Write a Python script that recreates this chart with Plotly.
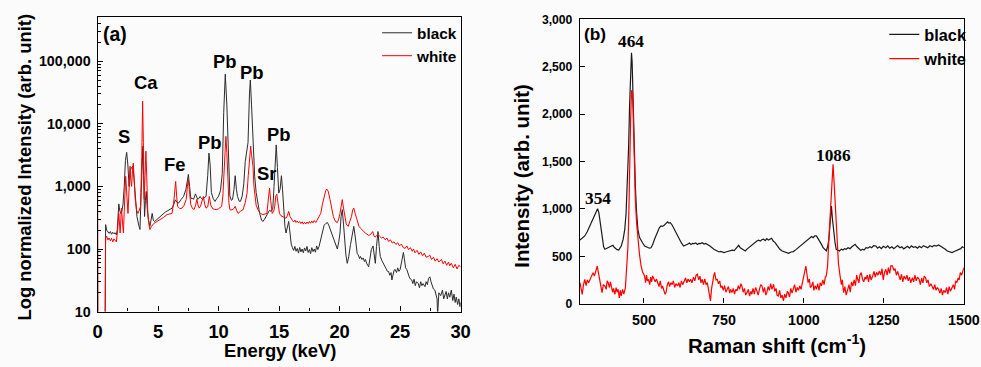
import math
import plotly.graph_objects as go

# ---------------- XRF (panel a) ----------------
xrf_black_e = [0.62, 0.66, 0.75, 0.85, 0.95, 1.05, 1.15, 1.25, 1.35, 1.45, 1.55, 1.62, 1.70, 1.75, 1.82, 1.90, 2.0, 2.1, 2.2, 2.3, 2.4, 2.5, 2.6, 2.7, 2.8, 2.9, 3.0, 3.1, 3.25, 3.4, 3.5, 3.6, 3.68, 3.74, 3.8, 3.88, 3.95, 4.02, 4.1, 4.2, 4.32, 4.42, 4.51, 4.6, 4.7, 4.85, 5.0, 5.2, 5.4, 5.6, 5.8, 6.0, 6.15, 6.3, 6.42, 6.55, 6.69, 6.9, 7.1, 7.3, 7.42, 7.5, 7.6, 7.7, 7.85, 7.92, 8.02, 8.09, 8.18, 8.28, 8.38, 8.47, 8.58, 8.69, 8.8, 8.96, 9.1, 9.2, 9.3, 9.4, 9.55, 9.7, 9.85, 10.0, 10.15, 10.3, 10.42, 10.55, 10.68, 10.8, 10.93, 11.05, 11.15, 11.27, 11.37, 11.47, 11.56, 11.7, 11.8, 11.95, 12.08, 12.2, 12.3, 12.43, 12.55, 12.62, 12.72, 12.82, 12.98, 13.1, 13.2, 13.39, 13.55, 13.66, 13.8, 13.93, 14.1, 14.2, 14.35, 14.48, 14.58, 14.66, 14.76, 14.86, 14.97, 15.08, 15.19, 15.28, 15.38, 15.48, 15.57, 15.68, 15.79, 15.9, 16.0, 16.1, 16.2, 16.3, 16.4, 16.5, 16.6, 16.7, 16.8, 16.9, 17.0, 17.1, 17.2, 17.3, 17.4, 17.5, 17.6, 17.7, 17.8, 17.9, 18.0, 18.1, 18.2, 18.3, 18.45, 18.6, 18.72, 18.85, 18.99, 19.1, 19.26, 19.4, 19.54, 19.7, 19.81, 19.93, 20.03, 20.12, 20.22, 20.32, 20.41, 20.52, 20.63, 20.75, 20.9, 21.05, 21.17, 21.3, 21.45, 21.55, 21.65, 21.72, 21.85, 21.95, 22.05, 22.13, 22.25, 22.4, 22.5, 22.62, 22.76, 22.85, 22.95, 23.05, 23.17, 23.27, 23.36, 23.5, 23.63, 23.75, 23.85, 23.95, 24.04, 24.15, 24.25, 24.32, 24.42, 24.5, 24.59, 24.7, 24.8, 24.9, 25.0, 25.1, 25.2, 25.27, 25.35, 25.45, 25.55, 25.65, 25.75, 25.85, 25.96, 26.05, 26.15, 26.25, 26.35, 26.5, 26.6, 26.7, 26.8, 26.9, 27.05, 27.15, 27.25, 27.35, 27.46, 27.55, 27.65, 27.75, 27.87, 27.95, 28.05, 28.1, 28.2, 28.35, 28.5, 28.6, 28.69, 28.8, 28.9, 29.0, 29.1, 29.23, 29.35, 29.45, 29.55, 29.64, 29.75, 29.85, 29.95, 30.0]
xrf_black_v = [5, 245, 200, 185, 178, 190, 172, 185, 175, 182, 168, 200, 480, 525, 420, 370, 400, 520, 1000, 2600, 3500, 2200, 1000, 1800, 2000, 2100, 1400, 800, 330, 240, 205, 800, 3000, 4400, 1500, 330, 600, 830, 450, 290, 230, 280, 370, 290, 275, 290, 310, 330, 360, 390, 410, 430, 450, 520, 610, 560, 540, 620, 690, 900, 1300, 1550, 1000, 650, 640, 620, 700, 760, 680, 620, 650, 690, 640, 610, 660, 690, 1500, 3400, 2200, 800, 640, 575, 640, 700, 850, 1600, 15000, 62000, 20000, 3000, 700, 600, 620, 900, 1480, 900, 690, 580, 575, 700, 1100, 2500, 3650, 5000, 30000, 50000, 20000, 6000, 1450, 800, 600, 370, 290, 275, 300, 330, 380, 415, 400, 450, 1000, 2800, 4600, 2000, 780, 900, 1480, 900, 370, 230, 180, 220, 275, 180, 120, 105, 95, 110, 92, 102, 86, 106, 90, 100, 87, 104, 93, 110, 88, 98, 84, 105, 91, 100, 89, 112, 98, 110, 150, 200, 240, 255, 265, 240, 200, 165, 140, 115, 100, 130, 180, 330, 425, 250, 140, 80, 59, 75, 118, 190, 230, 150, 85, 80, 70, 76, 68, 72, 63, 68, 58, 52, 70, 98, 112, 80, 59, 110, 190, 110, 76, 65, 59, 52, 48, 44, 44, 38, 42, 32, 40, 46, 47, 42, 50, 44, 47, 60, 80, 88, 70, 50, 47, 40, 36, 33, 32, 28, 33, 26, 30, 28, 24, 30, 26, 28, 25, 30, 27, 34, 36, 30, 25, 23, 22, 18, 16, 9, 20, 18, 22, 16, 19, 21, 16, 20, 17, 22, 15, 19, 14, 17, 13, 16, 12, 14]

xrf_white_e = [0.0, 0.04, 0.62, 0.66, 0.75, 0.85, 0.95, 1.05, 1.15, 1.25, 1.35, 1.45, 1.55, 1.65, 1.75, 1.86, 1.97, 2.05, 2.13, 2.2, 2.32, 2.42, 2.51, 2.6, 2.68, 2.75, 2.81, 2.88, 2.95, 3.03, 3.11, 3.22, 3.33, 3.45, 3.55, 3.65, 3.72, 3.78, 3.85, 3.92, 3.99, 4.06, 4.15, 4.25, 4.32, 4.45, 4.64, 4.9, 5.19, 5.45, 5.74, 6.0, 6.15, 6.28, 6.36, 6.45, 6.53, 6.61, 6.8, 6.97, 7.15, 7.32, 7.42, 7.49, 7.58, 7.7, 7.85, 7.98, 8.1, 8.2, 8.3, 8.39, 8.5, 8.58, 8.66, 8.74, 8.85, 8.96, 9.1, 9.23, 9.35, 9.51, 9.65, 9.84, 10.0, 10.15, 10.25, 10.35, 10.44, 10.52, 10.6, 10.68, 10.77, 10.85, 10.93, 11.1, 11.25, 11.37, 11.5, 11.61, 11.8, 12.02, 12.2, 12.35, 12.45, 12.51, 12.58, 12.65, 12.72, 12.84, 12.92, 13.0, 13.1, 13.25, 13.45, 13.66, 13.85, 13.99, 14.08, 14.16, 14.21, 14.3, 14.43, 14.55, 14.64, 14.72, 14.81, 14.9, 15.03, 15.15, 15.3, 15.45, 15.57, 15.68, 15.79, 15.9, 16.01, 16.1, 16.2, 16.3, 16.4, 16.5, 16.6, 16.7, 16.8, 16.9, 17.0, 17.1, 17.21, 17.3, 17.4, 17.5, 17.6, 17.7, 17.8, 17.9, 18.03, 18.15, 18.3, 18.44, 18.58, 18.72, 18.85, 18.93, 19.05, 19.21, 19.35, 19.48, 19.6, 19.7, 19.81, 19.92, 20.03, 20.12, 20.22, 20.32, 20.41, 20.55, 20.71, 20.85, 20.98, 21.08, 21.17, 21.3, 21.45, 21.6, 21.72, 21.86, 22.0, 22.13, 22.27, 22.4, 22.55, 22.65, 22.73, 22.85, 22.95, 23.05, 23.17, 23.3, 23.45, 23.6, 23.77, 23.9, 24.05, 24.2, 24.35, 24.5, 24.65, 24.8, 24.95, 25.1, 25.25, 25.41, 25.55, 25.7, 25.85, 26.0, 26.1, 26.23, 26.4, 26.55, 26.7, 26.85, 27.0, 27.15, 27.32, 27.45, 27.6, 27.75, 27.9, 28.05, 28.2, 28.42, 28.55, 28.7, 28.85, 29.0, 29.1, 29.23, 29.4, 29.55, 29.7, 29.85, 30.0]
xrf_white_v = [900, 5, 5, 150, 160, 140, 150, 135, 148, 130, 145, 135, 130, 200, 370, 180, 450, 280, 180, 400, 1450, 700, 370, 900, 2100, 1200, 1000, 1800, 2350, 1200, 620, 420, 370, 420, 480, 3000, 23000, 5000, 620, 1500, 3650, 1400, 370, 240, 205, 230, 255, 275, 295, 320, 355, 365, 370, 540, 900, 1200, 700, 480, 440, 450, 500, 620, 1000, 1280, 900, 510, 440, 430, 500, 620, 500, 450, 480, 540, 600, 690, 520, 450, 470, 690, 500, 440, 430, 425, 440, 460, 480, 700, 1600, 4000, 6300, 3500, 1000, 550, 425, 420, 440, 480, 410, 370, 400, 425, 550, 780, 1500, 2100, 3500, 4400, 3200, 2100, 1000, 690, 500, 425, 370, 355, 360, 370, 550, 900, 940, 600, 370, 400, 480, 700, 750, 550, 370, 340, 330, 320, 310, 340, 400, 330, 295, 285, 270, 290, 265, 280, 262, 275, 255, 272, 250, 268, 252, 270, 255, 275, 258, 280, 262, 285, 265, 295, 320, 370, 520, 690, 850, 910, 840, 615, 420, 330, 290, 270, 265, 300, 370, 520, 615, 450, 330, 250, 230, 280, 330, 420, 450, 360, 275, 230, 215, 205, 190, 180, 170, 165, 170, 185, 190, 160, 155, 165, 170, 160, 150, 155, 140, 150, 132, 140, 125, 130, 118, 126, 112, 120, 106, 102, 112, 98, 105, 92, 100, 87, 95, 82, 90, 78, 86, 74, 76, 80, 68, 74, 64, 70, 62, 68, 58, 64, 55, 62, 54, 59, 50, 57, 48, 55, 52]

xrf_ytickvals = [10, 100, 1000, 10000, 100000]
xrf_yticktext = ["10", "100", "1,000", "10,000", "100,000"]
xrf_xtickvals = [0, 5, 10, 15, 20, 25, 30]

# element labels (keV, intensity)
xrf_label_text = ["S", "Ca", "Fe", "Pb", "Pb", "Pb", "Sr", "Pb"]
xrf_label_e = [2.19, 3.96, 6.37, 9.29, 10.52, 12.76, 13.93, 14.95]
xrf_label_v = [6300, 45000, 2200, 5000, 100000, 65000, 1600, 6800]

# ---------------- Raman (panel b) ----------------
raman_black_s = [300, 308, 315, 323, 331, 338, 346, 351, 355, 359, 362, 366, 369, 374, 378, 383, 388, 393, 398, 403, 407, 411, 416, 421, 425, 429, 435, 440, 444, 448, 452, 455, 458, 461, 463, 466, 469, 473, 477, 481, 486, 491, 496, 502, 507, 512, 517, 522, 527, 533, 538, 543, 548, 553, 558, 564, 569, 574, 578, 582, 588, 595, 602, 610, 617, 624, 630, 636, 642, 647, 652, 657, 662, 667, 672, 677, 682, 688, 693, 698, 705, 713, 720, 729, 735, 740, 745, 750, 756, 762, 770, 776, 782, 786, 791, 796, 801, 806, 811, 817, 822, 827, 832, 838, 845, 853, 858, 864, 869, 874, 879, 884, 889, 894, 899, 904, 910, 917, 925, 932, 939, 946, 952, 960, 967, 975, 982, 990, 997, 1003, 1010, 1017, 1024, 1029, 1034, 1039, 1044, 1049, 1055, 1060, 1065, 1070, 1074, 1078, 1082, 1086, 1089, 1093, 1097, 1101, 1106, 1111, 1117, 1122, 1127, 1132, 1138, 1144, 1150, 1155, 1160, 1166, 1173, 1178, 1183, 1188, 1194, 1200, 1206, 1212, 1218, 1225, 1230, 1236, 1242, 1248, 1256, 1262, 1268, 1275, 1281, 1287, 1293, 1300, 1306, 1312, 1318, 1324, 1330, 1336, 1342, 1349, 1355, 1361, 1367, 1374, 1380, 1387, 1394, 1401, 1407, 1414, 1421, 1428, 1435, 1442, 1448, 1455, 1463, 1470, 1477, 1483, 1490, 1495, 1500]
raman_black_i = [672, 690, 714, 760, 820, 880, 943, 985, 1002, 960, 890, 780, 680, 600, 573, 580, 590, 600, 608, 615, 595, 580, 570, 566, 585, 608, 680, 784, 950, 1241, 1650, 2085, 2400, 2648, 2550, 2085, 1650, 1241, 960, 784, 700, 661, 640, 608, 600, 590, 585, 590, 620, 679, 720, 767, 800, 820, 815, 830, 850, 862, 850, 855, 830, 784, 730, 679, 640, 608, 615, 626, 640, 625, 635, 633, 640, 625, 635, 633, 642, 628, 635, 626, 610, 590, 570, 556, 545, 550, 540, 538, 545, 552, 556, 565, 560, 573, 600, 615, 590, 580, 565, 556, 575, 590, 608, 625, 640, 661, 670, 660, 675, 679, 665, 685, 670, 679, 690, 660, 644, 610, 573, 555, 545, 538, 530, 545, 549, 570, 590, 615, 635, 650, 670, 690, 707, 695, 715, 714, 690, 661, 625, 590, 570, 556, 600, 679, 850, 1030, 900, 749, 650, 573, 560, 556, 575, 565, 580, 573, 590, 580, 600, 615, 626, 600, 573, 560, 575, 565, 590, 585, 600, 590, 612, 608, 585, 600, 580, 605, 590, 610, 585, 600, 580, 601, 612, 590, 600, 578, 590, 605, 585, 610, 595, 601, 585, 605, 590, 612, 601, 590, 610, 600, 615, 608, 619, 605, 590, 573, 555, 545, 538, 550, 560, 573, 580, 600, 590]

raman_white_s = [300, 304, 307, 311, 315, 319, 323, 327, 331, 336, 341, 345, 349, 352, 354, 358, 362, 366, 369, 373, 378, 382, 385, 388, 392, 395, 398, 402, 405, 409, 413, 416, 419, 423, 426, 429, 433, 437, 442, 446, 450, 453, 455, 458, 461, 463, 466, 469, 473, 477, 481, 486, 491, 496, 502, 505, 508, 511, 514, 518, 521, 524, 527, 531, 535, 539, 543, 547, 551, 555, 558, 562, 566, 569, 573, 577, 580, 584, 588, 592, 596, 600, 605, 609, 613, 617, 621, 626, 630, 634, 638, 642, 646, 650, 655, 659, 663, 667, 671, 675, 678, 682, 686, 690, 694, 698, 702, 705, 708, 711, 714, 718, 721, 725, 729, 733, 737, 740, 744, 748, 752, 756, 760, 764, 768, 771, 775, 779, 783, 787, 791, 795, 799, 803, 806, 810, 814, 818, 822, 826, 830, 834, 837, 841, 845, 849, 853, 857, 861, 865, 869, 873, 877, 881, 884, 888, 892, 896, 900, 905, 909, 913, 916, 920, 924, 928, 932, 936, 940, 944, 948, 951, 955, 959, 963, 967, 971, 975, 979, 983, 987, 991, 995, 998, 1002, 1006, 1009, 1013, 1017, 1020, 1024, 1028, 1031, 1035, 1039, 1043, 1047, 1051, 1055, 1059, 1063, 1067, 1070, 1074, 1078, 1082, 1085, 1088, 1091, 1094, 1097, 1101, 1104, 1108, 1113, 1117, 1120, 1124, 1128, 1132, 1137, 1141, 1145, 1149, 1153, 1157, 1161, 1165, 1168, 1172, 1175, 1179, 1183, 1187, 1191, 1194, 1198, 1202, 1206, 1210, 1215, 1219, 1223, 1227, 1231, 1236, 1240, 1244, 1248, 1252, 1256, 1260, 1264, 1268, 1272, 1277, 1281, 1285, 1289, 1293, 1297, 1301, 1305, 1309, 1313, 1318, 1322, 1326, 1330, 1334, 1339, 1343, 1347, 1351, 1355, 1360, 1364, 1368, 1372, 1376, 1380, 1384, 1388, 1392, 1397, 1401, 1405, 1409, 1413, 1417, 1421, 1425, 1429, 1433, 1437, 1442, 1446, 1450, 1454, 1458, 1463, 1467, 1471, 1474, 1478, 1482, 1485, 1489, 1493, 1497, 1500]
raman_white_i = [222, 130, 98, 200, 257, 190, 250, 220, 257, 300, 327, 290, 350, 380, 397, 320, 239, 160, 116, 200, 186, 150, 240, 222, 170, 230, 186, 120, 160, 98, 170, 120, 151, 60, 140, 81, 150, 100, 169, 350, 608, 1000, 1453, 1900, 2244, 2250, 2050, 1600, 1101, 850, 679, 520, 397, 330, 292, 220, 300, 240, 257, 200, 280, 230, 292, 260, 230, 260, 222, 180, 240, 160, 186, 150, 98, 120, 200, 230, 180, 222, 200, 240, 170, 210, 186, 220, 170, 240, 200, 239, 270, 220, 260, 230, 257, 220, 280, 240, 300, 310, 250, 290, 220, 257, 200, 260, 200, 222, 150, 80, 28, 150, 240, 292, 330, 250, 257, 210, 240, 170, 186, 140, 190, 120, 151, 180, 110, 150, 116, 160, 100, 150, 134, 190, 150, 210, 186, 120, 160, 90, 116, 150, 80, 130, 98, 160, 100, 170, 134, 90, 150, 200, 186, 120, 170, 90, 116, 180, 140, 210, 150, 204, 130, 160, 90, 81, 140, 60, 90, 28, 100, 60, 130, 116, 70, 160, 110, 151, 200, 120, 170, 140, 186, 150, 230, 257, 330, 397, 300, 222, 260, 170, 186, 230, 140, 190, 151, 210, 140, 220, 186, 250, 200, 280, 292, 400, 679, 950, 1101, 1350, 1470, 1300, 1101, 800, 538, 420, 292, 200, 250, 116, 180, 90, 151, 200, 120, 230, 186, 250, 190, 300, 257, 220, 300, 327, 260, 230, 280, 257, 300, 230, 310, 250, 292, 340, 280, 330, 300, 345, 300, 370, 250, 330, 362, 300, 380, 320, 400, 397, 350, 370, 300, 340, 292, 250, 310, 230, 290, 257, 300, 240, 280, 220, 274, 230, 300, 240, 280, 257, 200, 270, 220, 290, 274, 220, 250, 180, 210, 186, 150, 200, 140, 170, 151, 110, 160, 90, 140, 116, 170, 100, 180, 130, 169, 200, 150, 240, 222, 270, 250, 327, 300, 360, 380]

raman_xtickvals = [500, 750, 1000, 1250, 1500]
raman_ytickvals = [0, 500, 1000, 1500, 2000, 2500, 3000]
raman_yticktext = ["0", "500", "1,000", "1,500", "2,000", "2,500", "3,000"]

raman_label_text = ["354", "464", "1086"]
raman_label_s = [357, 458, 1091]
raman_label_i = [1111, 2771, 1568]

# ---------------- figure ----------------
BLACK = "#1a1a1a"
RED = "#ff0000"
SANS = "Liberation Sans, Arial, sans-serif"
SERIF = "Liberation Serif, Times New Roman, serif"

W, H = 981, 367
# The photographed page comes out slightly larger than the window and is scaled
# back to W x H, so target pixel positions are mapped through the inverse scaling.
SX = (W + 16) / W
SY = (H + 16) / H
FS = 1.02  # font compensation

def px(x):
    return min(1.0, (x * SX - 8) / W)
def py(y):
    return 1 - (y * SY - 8) / H
def f(s):
    return round(s * FS, 1)

# minor tick positions on the log axis (2..9 of every decade)
log_minor_ticks = [m * 10 ** d for d in range(1, 6) for m in range(2, 10)]

fig = go.Figure()
fig.add_trace(go.Scatter(x=xrf_black_e, y=xrf_black_v, mode="lines", name="black",
                         line=dict(color="#2b2b2b", width=1), xaxis="x", yaxis="y", legend="legend"))
fig.add_trace(go.Scatter(x=xrf_white_e, y=xrf_white_v, mode="lines", name="white",
                         line=dict(color=RED, width=1), xaxis="x", yaxis="y", legend="legend"))
fig.add_trace(go.Scatter(x=raman_black_s, y=raman_black_i, mode="lines", name="black",
                         line=dict(color=BLACK, width=1.2), xaxis="x2", yaxis="y2", legend="legend2"))
fig.add_trace(go.Scatter(x=raman_white_s, y=raman_white_i, mode="lines", name="white",
                         line=dict(color=RED, width=1.2), xaxis="x2", yaxis="y2", legend="legend2"))

axis_common = dict(showline=True, linecolor="black", linewidth=1.3, mirror=True,
                   ticks="inside", tickcolor="black", showgrid=False, zeroline=False)

fig.update_layout(
    width=W, height=H,
    margin=dict(l=0, r=0, t=0, b=0),
    paper_bgcolor="#fbfbfb", plot_bgcolor="#fbfbfb",
    font=dict(family=SANS, color="black"),
    xaxis=dict(domain=[px(101), px(466)], range=[0, 30], tickvals=xrf_xtickvals,
               ticklen=5, tickwidth=1.2,
               minor=dict(ticks="inside", dtick=2.5, ticklen=3, tickcolor="black", showgrid=False),
               tickfont=dict(size=f(18), weight="bold"), ticklabelstandoff=3,
               anchor="y", **axis_common),
    yaxis=dict(domain=[py(312), py(18)], type="log", range=[1, 5.70],
               tickvals=xrf_ytickvals, ticktext=xrf_yticktext,
               ticklen=5, tickwidth=1.2,
               minor=dict(ticks="inside", tickvals=log_minor_ticks, ticklen=3,
                          tickcolor="black", tickwidth=0.8, showgrid=False),
               tickfont=dict(size=f(14), weight="bold"), ticklabelstandoff=3,
               anchor="x", **axis_common),
    xaxis2=dict(domain=[px(586), px(972)], range=[300, 1500], tickvals=raman_xtickvals,
                ticklen=5, tickwidth=1.2, ticklabeloverflow="allow",
                tickfont=dict(size=f(14), weight="bold"), ticklabelstandoff=3,
                anchor="y2", **axis_common),
    yaxis2=dict(domain=[py(304), py(20)], range=[0, 3000], tickvals=raman_ytickvals,
                ticktext=raman_yticktext, ticklen=5, tickwidth=1.2,
                tickfont=dict(size=f(12), weight="bold"), ticklabelstandoff=4,
                anchor="x2", **axis_common),
    legend=dict(x=px(382), y=py(17), xanchor="left", yanchor="top",
                bgcolor="rgba(0,0,0,0)", font=dict(size=f(15), weight="bold"),
                tracegroupgap=0, itemwidth=30),
    legend2=dict(x=px(892), y=py(18), xanchor="left", yanchor="top",
                 bgcolor="rgba(0,0,0,0)", font=dict(size=f(16), weight="bold"),
                 tracegroupgap=0, itemwidth=30),
    showlegend=True,
)

annotations = []
for t, e, v in zip(xrf_label_text, xrf_label_e, xrf_label_v):
    annotations.append(dict(x=e, y=math.log10(v), xref="x", yref="y", text=t, showarrow=False,
                            xanchor="center", yanchor="middle",
                            font=dict(size=f(18), family=SANS, weight="bold")))
for t, s, i in zip(raman_label_text, raman_label_s, raman_label_i):
    annotations.append(dict(x=s, y=i, xref="x2", yref="y2", text=t, showarrow=False,
                            xanchor="center", yanchor="middle",
                            font=dict(size=f(17), family=SERIF, weight="bold")))

def paper_text(x, y, text, size, angle=0, family=SANS):
    return dict(x=px(x), y=py(y), xref="paper", yref="paper", text=text, showarrow=False,
                xanchor="center", yanchor="middle", textangle=angle,
                font=dict(size=f(size), family=family, weight="bold"))

annotations += [
    paper_text(118, 35, "(a)", 19),
    paper_text(601, 35, "(b)", 17),
    paper_text(284, 351, "Energy (keV)", 18),
    paper_text(27, 168, "Log normalized Intensity (arb. unit)", 18, -90),
    paper_text(528, 176, "Intensity (arb. unit)", 20, -90),
    # x-axis title of panel (b): sits on the very bottom edge of the figure
    dict(x=px(784), y=0, xref="paper", yref="paper", text="Raman shift (cm<sup>-1</sup>)",
         showarrow=False, xanchor="center", yanchor="bottom",
         font=dict(size=f(20), family=SANS, weight="bold")),
]
fig.update_layout(annotations=annotations)

fig.write_html("out.html")
